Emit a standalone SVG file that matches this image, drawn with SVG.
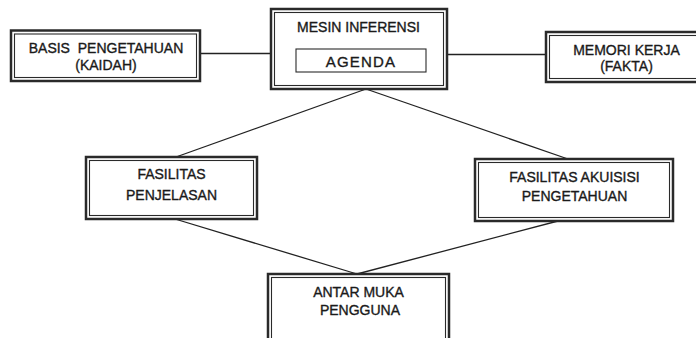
<svg xmlns="http://www.w3.org/2000/svg" width="696" height="338" viewBox="0 0 696 338">
<style>
  .o{fill:#fff;stroke:#2a2a2a;stroke-width:2.5}
  .i{fill:none;stroke:#2a2a2a;stroke-width:1.1}
  .c{stroke:#222;stroke-width:1.3;fill:none}
  text{font-family:"Liberation Sans",Arial,Helvetica,sans-serif;font-size:14px;fill:#1a1a1a;stroke:#1a1a1a;stroke-width:0.35;text-anchor:middle}
</style>
<rect width="696" height="338" fill="#fff"/>
<g id="connectors">
  <line class="c" x1="200" y1="53.5" x2="271" y2="53.5"/>
  <line class="c" x1="447" y1="54.5" x2="546" y2="54.5"/>
  <line class="c" x1="366" y1="89" x2="176" y2="157"/>
  <line class="c" x1="366" y1="89" x2="568" y2="159"/>
  <line class="c" x1="175" y1="219" x2="357" y2="274"/>
  <line class="c" x1="558" y1="221" x2="357" y2="274"/>
</g>
<g id="basis">
  <rect class="o" x="11" y="30.5" width="189" height="50.5"/>
  <rect class="i" x="14.5" y="34" width="182" height="43.5"/>
  <text x="106" y="53" style="white-space:pre">BASIS  PENGETAHUAN</text>
  <text x="106" y="70">(KAIDAH)</text>
</g>
<g id="mesin">
  <rect class="o" x="271" y="9" width="176" height="80"/>
  <rect class="i" x="274.5" y="12.5" width="169" height="73"/>
  <text x="358.5" y="32">MESIN INFERENSI</text>
  <rect class="i" x="296" y="49" width="130" height="23"/>
  <text x="361" y="66.5" style="font-size:15px;letter-spacing:1.2px">AGENDA</text>
</g>
<g id="memori">
  <rect class="o" x="546" y="32" width="170" height="50"/>
  <rect class="i" x="549.5" y="35.5" width="163" height="43"/>
  <text x="626.5" y="55">MEMORI KERJA</text>
  <text x="626.5" y="71">(FAKTA)</text>
</g>
<g id="penjelasan">
  <rect class="o" x="86" y="157" width="171" height="62"/>
  <rect class="i" x="89.5" y="160.5" width="164" height="55"/>
  <text x="171.5" y="179">FASILITAS</text>
  <text x="171.5" y="200">PENJELASAN</text>
</g>
<g id="akuisisi">
  <rect class="o" x="475" y="159" width="198" height="62"/>
  <rect class="i" x="478.5" y="162.5" width="191" height="55"/>
  <text x="574.5" y="181.5">FASILITAS AKUISISI</text>
  <text x="574.5" y="200.5">PENGETAHUAN</text>
</g>
<g id="antarmuka">
  <rect class="o" x="268" y="274" width="181" height="80"/>
  <rect class="i" x="271.5" y="277.5" width="174" height="73"/>
  <text x="358.5" y="297">ANTAR MUKA</text>
  <text x="360" y="315">PENGGUNA</text>
</g>
</svg>
